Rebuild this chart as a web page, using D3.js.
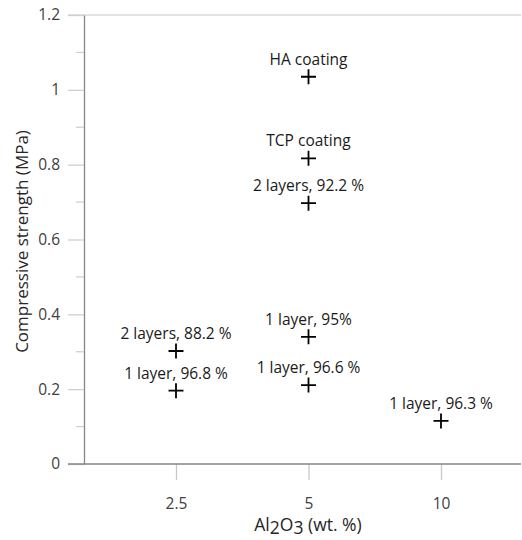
<!DOCTYPE html>
<html>
<head>
<meta charset="utf-8">
<script src="https://cdn.jsdelivr.net/npm/d3@7/dist/d3.min.js"></script>
<style>
  html, body { margin: 0; padding: 0; background: #fff; }
  svg { display: block; font-family: "Open Sans", sans-serif; }
</style>
</head>
<body>
<svg id="chart" width="522" height="540"></svg>
<script>
// ---- data ----
const categories = ["2.5", "5", "10"];
const pointCategory = ["5", "5", "5", "5", "5", "2.5", "2.5", "10"];
const pointValue = [1.035, 0.817, 0.697, 0.340, 0.211, 0.302, 0.196, 0.115];
const pointLabel = ["HA coating", "TCP coating", "2 layers, 92.2 %", "1 layer, 95%",
                    "1 layer, 96.6 %", "2 layers, 88.2 %", "1 layer, 96.8 %", "1 layer, 96.3 %"];
const yTicks = [0, 0.2, 0.4, 0.6, 0.8, 1, 1.2];
const yMinorTicks = [0.1, 0.3, 0.5, 0.7, 0.9, 1.1];

const svg = d3.select("#chart");
const x = d3.scalePoint().domain(categories).range([176, 441]);
const y = d3.scaleLinear().domain([0, 1.2]).range([464, 15]);
const xLeft = 84, xRight = 521;

// top border / gridline at max
svg.append("line").attr("x1", 68).attr("x2", xRight)
  .attr("y1", y(1.2)).attr("y2", y(1.2))
  .attr("stroke", "#d9d9d9").attr("stroke-width", 1.5);

// y axis
const yAxis = d3.axisLeft(y).tickValues(yTicks).tickSize(16).tickPadding(8)
  .tickFormat(d3.format("~g")).tickSizeOuter(0);
const gy = svg.append("g").attr("transform", `translate(${xLeft},0)`).call(yAxis);
gy.select(".domain").attr("stroke", "#868686").attr("stroke-width", 1.3);
gy.selectAll(".tick line").attr("stroke", "#d0d0d0").attr("stroke-width", 1.3);
gy.selectAll(".tick text").attr("fill", "#404040").attr("font-size", "15.5px")
  .attr("font-family", "Open Sans, sans-serif");
gy.selectAll(".minor").data(yMinorTicks).enter().append("line")
  .attr("class", "minor").attr("x1", -8).attr("x2", 0)
  .attr("y1", d => y(d)).attr("y2", d => y(d))
  .attr("stroke", "#d0d0d0").attr("stroke-width", 1.3);

// x axis
const xAxis = d3.axisBottom(x).tickSize(16).tickPadding(18).tickSizeOuter(0);
const gx = svg.append("g").attr("transform", `translate(0,${y(0)})`).call(xAxis);
gx.select(".domain").remove();
gx.selectAll(".tick line").attr("stroke", "#c8c8c8").attr("stroke-width", 1.3);
gx.selectAll(".tick text").attr("fill", "#404040").attr("font-size", "15.5px")
  .attr("font-family", "Open Sans, sans-serif");
svg.append("line").attr("x1", 68).attr("x2", xRight)
  .attr("y1", y(0)).attr("y2", y(0))
  .attr("stroke", "#868686").attr("stroke-width", 1.3);

// axis titles
svg.append("text")
  .attr("transform", `translate(22,${(y(0) + y(1.2)) / 2 + 2}) rotate(-90)`)
  .attr("text-anchor", "middle").attr("dy", "0.35em")
  .attr("font-size", "17px").attr("fill", "#262626")
  .text("Compressive strength (MPa)");

const xt = svg.append("text").attr("x", 308).attr("y", 531)
  .attr("text-anchor", "middle").attr("font-size", "17.5px").attr("fill", "#262626");
xt.append("tspan").text("Al");
xt.append("tspan").attr("dy", 3).text("2");
xt.append("tspan").attr("dy", -3).text("O");
xt.append("tspan").attr("dy", 3).text("3");
xt.append("tspan").attr("dy", -3).text(" (wt. %)");

// points
const pts = pointValue.map((v, i) => ({ c: pointCategory[i], v, label: pointLabel[i] }));
const g = svg.append("g").selectAll("g").data(pts).enter().append("g")
  .attr("transform", d => `translate(${x(d.c)},${y(d.v)})`);
g.append("path").attr("d", "M-7.5,0H7.5M0,-7.5V7.5")
  .attr("stroke", "#000").attr("stroke-width", 1.8).attr("fill", "none");
g.append("text").attr("y", -12).attr("text-anchor", "middle")
  .attr("font-size", "15.5px").attr("fill", "#1a1a1a")
  .text(d => d.label);
</script>
</body>
</html>
